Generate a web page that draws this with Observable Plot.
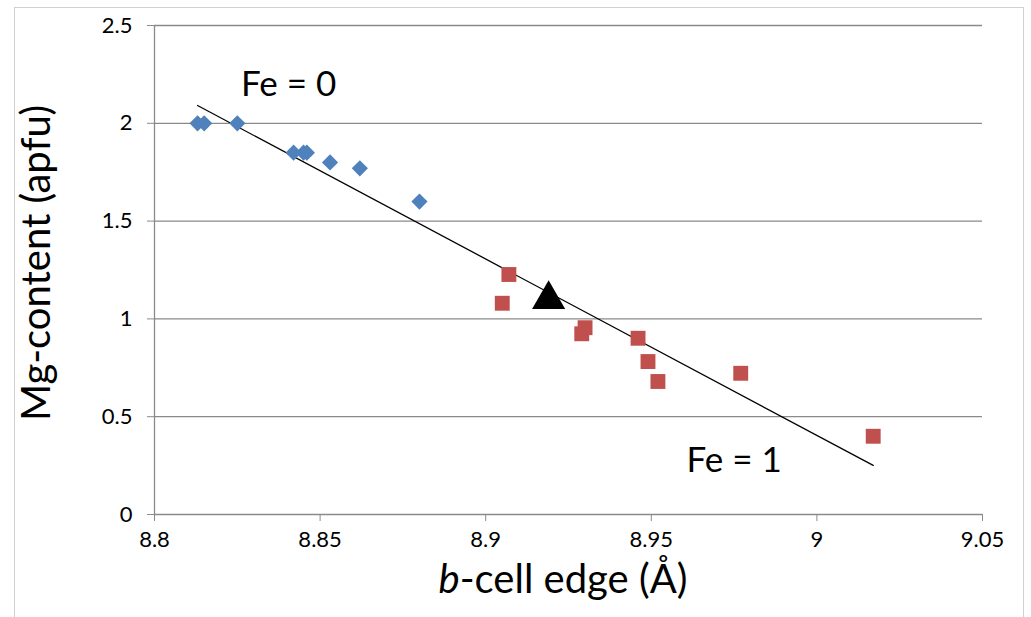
<!DOCTYPE html>
<html>
<head>
<meta charset="utf-8">
<script src="https://cdn.jsdelivr.net/npm/d3@7"></script>
<script src="https://cdn.jsdelivr.net/npm/@observablehq/plot@0.6"></script>
<style>
  html, body { margin: 0; padding: 0; background: #fff; }
  #wrap { position: relative; width: 1031px; height: 617px; overflow: hidden; }
  #frame { position: absolute; left: 14px; top: 7px; width: 1010px; height: 640px; border: 1px solid #d0d0d0; box-sizing: border-box; }
  #chart { position: absolute; left: 0; top: 0; }
</style>
</head>
<body>
<div id="wrap"><div id="frame"></div><div id="chart"></div></div>
<script>
// Fe = 0 series (blue diamonds)
const fe0B = [8.813, 8.815, 8.825, 8.842, 8.845, 8.846, 8.853, 8.862, 8.880];
const fe0Mg = [2.00, 2.00, 2.00, 1.85, 1.85, 1.85, 1.80, 1.77, 1.60];
// Fe = 1 series (red squares)
const fe1B = [8.905, 8.907, 8.929, 8.930, 8.946, 8.949, 8.952, 8.977, 9.017];
const fe1Mg = [1.08, 1.227, 0.924, 0.955, 0.901, 0.782, 0.68, 0.722, 0.40];
// Highlighted sample (black triangle)
const sampleB = [8.919];
const sampleMg = [1.10];
// Trend line end points
const trendB = [8.813, 9.017];
const trendMg = [2.091, 0.251];
// Annotations
const noteText = ["Fe = 0", "Fe = 1"];
const noteB = [8.8405, 8.975];
const noteMg = [2.198, 0.276];
// Ticks
const xTicks = [8.8, 8.85, 8.9, 8.95, 9.0, 9.05];
const yTicks = [0, 0.5, 1, 1.5, 2, 2.5];

const fe0 = fe0B.map((b, i) => ({b, mg: fe0Mg[i]}));
const fe1 = fe1B.map((b, i) => ({b, mg: fe1Mg[i]}));
const sample = sampleB.map((b, i) => ({b, mg: sampleMg[i]}));
const trend = trendB.map((b, i) => ({b, mg: trendMg[i]}));
const notes = noteText.map((t, i) => ({t, b: noteB[i], mg: noteMg[i]}));

const fmt = d => String(+d.toFixed(2));
const FONT = "Lato, 'Open Sans', sans-serif";

const plot = Plot.plot({
  width: 1031,
  height: 617,
  marginLeft: 154,
  marginRight: 49,
  marginTop: 25,
  marginBottom: 103,
  style: {fontFamily: FONT, fontSize: "22px", background: "transparent", overflow: "visible"},
  x: {domain: [8.8, 9.05]},
  y: {domain: [0, 2.5]},
  marks: [
    Plot.gridY(yTicks.filter(d => d > 0), {stroke: "#8a8a8a", strokeOpacity: 1, strokeWidth: 1.3}),
    Plot.ruleX([8.8], {y1: 0, y2: 2.5, stroke: "#8a8a8a", strokeWidth: 1.3}),
    Plot.ruleY([0], {stroke: "#8a8a8a", strokeWidth: 1.3}),
    Plot.axisX({ticks: xTicks, tickFormat: fmt, tickSize: 7, tickPadding: 10, stroke: "#8a8a8a", color: "#000", label: null}),
    Plot.axisY({ticks: yTicks, tickFormat: fmt, tickSize: 7, tickPadding: 15, stroke: "#8a8a8a", color: "#000", label: null}),
    Plot.line(trend, {x: "b", y: "mg", stroke: "#000", strokeWidth: 1.3}),
    Plot.dot(fe0, {x: "b", y: "mg", symbol: "diamond2", r: 7.3, fill: "#4F81BD", stroke: "none"}),
    Plot.dot(fe1, {x: "b", y: "mg", symbol: "square", r: 8.4, fill: "#C0504D", stroke: "none"}),
    Plot.dot(sample, {x: "b", y: "mg", symbol: "triangle", r: 12.3, fill: "#000", stroke: "none"}),
    Plot.text(notes, {x: "b", y: "mg", text: "t", fontSize: 35, fill: "#000", textAnchor: "middle"})
  ]
});
document.getElementById("chart").appendChild(plot);

// Axis titles
const svg = d3.select(plot);
svg.append("text")
  .attr("transform", "translate(40,263) rotate(-90)")
  .attr("text-anchor", "middle")
  .attr("dominant-baseline", "middle")
  .style("font-family", FONT)
  .style("font-size", "40px")
  .attr("fill", "#000")
  .text("Mg-content (apfu)");
const xt = svg.append("text")
  .attr("x", 563).attr("y", 583)
  .attr("text-anchor", "middle")
  .attr("dominant-baseline", "middle")
  .style("font-family", FONT)
  .style("font-size", "40px")
  .attr("fill", "#000");
xt.append("tspan").style("font-style", "italic").text("b");
xt.append("tspan").text("-cell edge (Å)");
</script>
</body>
</html>
